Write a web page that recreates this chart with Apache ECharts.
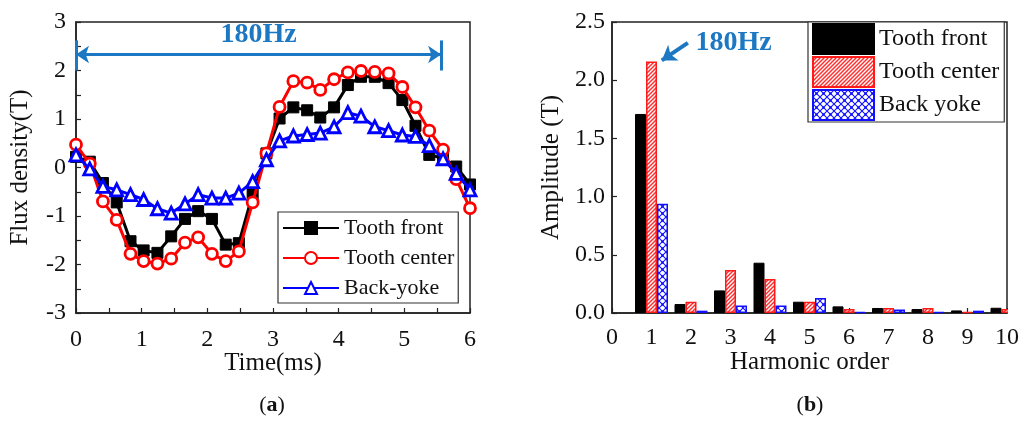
<!DOCTYPE html>
<html>
<head>
<meta charset="utf-8">
<script src="https://cdn.jsdelivr.net/npm/echarts@6/dist/echarts.min.js"></script>
<style>
  html, body { margin: 0; padding: 0; background: #fff; }
  #wrap { position: relative; width: 1026px; height: 423px; }
  #fluxChart { position: absolute; left: 0; top: 0; width: 540px; height: 423px; }
  #harmonicChart { position: absolute; left: 540px; top: 0; width: 486px; height: 423px; }
</style>
</head>
<body>
<div id="wrap">
  <div id="fluxChart"></div>
  <div id="harmonicChart"></div>
</div>
<script>
// ---- (a) flux density waveforms ----
const timeMs = [0, 0.21, 0.41, 0.62, 0.83, 1.03, 1.24, 1.45, 1.66, 1.86,
  2.07, 2.28, 2.48, 2.69, 2.90, 3.10, 3.31, 3.52, 3.72, 3.93,
  4.14, 4.34, 4.55, 4.76, 4.97, 5.17, 5.38, 5.59, 5.79, 6.00];
const toothFront = [0.22, 0.12, -0.32, -0.72, -1.52, -1.71, -1.76, -1.42, -1.06, -0.90,
  -1.06, -1.59, -1.56, -0.55, 0.29, 1.01, 1.24, 1.18, 1.03, 1.24,
  1.70, 1.87, 1.87, 1.74, 1.39, 0.86, 0.26, 0.19, 0.02, -0.35];
const toothCenter = [0.47, 0.08, -0.70, -1.08, -1.78, -1.93, -1.98, -1.88, -1.55, -1.44,
  -1.78, -1.93, -1.73, -0.72, 0.29, 1.25, 1.78, 1.75, 1.60, 1.82,
  1.96, 1.99, 1.97, 1.94, 1.66, 1.24, 0.76, 0.37, -0.24, -0.84];
const backYoke = [0.26, -0.03, -0.39, -0.46, -0.56, -0.66, -0.85, -0.94, -0.75, -0.56,
  -0.63, -0.63, -0.53, -0.29, 0.16, 0.55, 0.65, 0.68, 0.71, 0.84,
  1.13, 1.06, 0.84, 0.76, 0.67, 0.64, 0.45, 0.18, -0.12, -0.46];
const fluxLegend = ['Tooth front', 'Tooth center', 'Back-yoke'];

// one electrical period at 180 Hz, in ms
const periodEndMs = 5.56;

// ---- (b) harmonic amplitudes ----
const harmonicOrder = [1, 2, 3, 4, 5, 6, 7, 8, 9, 10];
const ampToothFront = [1.71, 0.077, 0.194, 0.432, 0.097, 0.057, 0.043, 0.034, 0.022, 0.045];
const ampToothCenter = [2.16, 0.097, 0.369, 0.292, 0.097, 0.034, 0.043, 0.043, 0.010, 0.034];
const ampBackYoke = [0.938, 0.020, 0.065, 0.065, 0.129, 0.009, 0.031, 0.010, 0.020, 0.010];
const harmonicLegend = ['Tooth front', 'Tooth center', 'Back yoke'];

const FONT = '"Liberation Serif", "DejaVu Serif", serif';
const AXIS_COLOR = '#222';
const NOTE_BLUE = '#1c78c2';

// hatch fills for the bars
function stripePattern(color) {
  const s = 4;
  const c = document.createElement('canvas');
  c.width = s; c.height = s;
  const g = c.getContext('2d');
  g.fillStyle = '#fff'; g.fillRect(0, 0, s, s);
  g.strokeStyle = color; g.lineWidth = 1.5;
  g.beginPath();
  g.moveTo(-1, s + 1); g.lineTo(s + 1, -1);
  g.moveTo(-1, 1); g.lineTo(1, -1);
  g.moveTo(s - 1, s + 1); g.lineTo(s + 1, s - 1);
  g.stroke();
  return c;
}
function crossPattern(color) {
  const s = 7;
  const c = document.createElement('canvas');
  c.width = s; c.height = s;
  const g = c.getContext('2d');
  g.fillStyle = '#fff'; g.fillRect(0, 0, s, s);
  g.strokeStyle = color; g.lineWidth = 1.1;
  g.beginPath();
  g.moveTo(0, 0); g.lineTo(s, s);
  g.moveTo(0, s); g.lineTo(s, 0);
  g.stroke();
  g.fillStyle = color;
  g.fillRect(s / 2 - 1.2, s / 2 - 1.2, 2.4, 2.4);
  return c;
}

function axisCommon() {
  return {
    axisLine: { show: true, onZero: false, lineStyle: { color: AXIS_COLOR, width: 1.5 } },
    axisTick: { show: true, inside: true, length: 5, lineStyle: { color: AXIS_COLOR, width: 1.2 } },
    splitLine: { show: false },
    nameMoveOverlap: false,
    axisLabel: { fontFamily: FONT, fontSize: 24, color: '#111' },
    nameTextStyle: { fontFamily: FONT, fontSize: 25, color: '#111' }
  };
}

// ---------------- chart (a) ----------------
const fluxChart = echarts.init(document.getElementById('fluxChart'), null, { renderer: 'canvas' });
const xa = axisCommon();
const ya = axisCommon();
fluxChart.setOption({
  animation: false,
  backgroundColor: '#fff',
  grid: { left: 76, right: 70, top: 22, bottom: 110, containLabel: false, outerBoundsMode: 'none',
          show: true, borderColor: AXIS_COLOR, borderWidth: 1.5 },
  xAxis: Object.assign(xa, {
    type: 'value', min: 0, max: 6, interval: 1,
    minorTick: { show: true, splitNumber: 2, length: 5, lineStyle: { color: AXIS_COLOR, width: 1.2 } },
    name: 'Time(ms)', nameLocation: 'middle', nameGap: 38,
    axisLabel: Object.assign(xa.axisLabel, { margin: 15 })
  }),
  yAxis: Object.assign(ya, {
    type: 'value', min: -3, max: 3, interval: 1,
    minorTick: { show: true, splitNumber: 2, length: 5, lineStyle: { color: AXIS_COLOR, width: 1.2 } },
    name: 'Flux density(T)', nameLocation: 'middle', nameGap: 43,
    axisLabel: Object.assign(ya.axisLabel, { margin: 10 })
  }),
  legend: {
    data: fluxLegend,
    orient: 'vertical',
    left: 278, top: 212,
    itemWidth: 56, itemHeight: 15, itemGap: 4,
    padding: [3, 4, 2, 4],
    borderColor: '#333', borderWidth: 1.2,
    backgroundColor: '#fff',
    textStyle: { fontFamily: FONT, fontSize: 22, color: '#111', lineHeight: 26 }
  },
  series: [
    {
      name: 'Tooth front', type: 'line',
      data: timeMs.map((t, i) => [t, toothFront[i]]),
      symbol: 'rect', symbolSize: 11,
      lineStyle: { color: '#000', width: 3 },
      itemStyle: { color: '#000', borderColor: '#000', borderWidth: 1 },
      z: 2
    },
    {
      name: 'Tooth center', type: 'line',
      data: timeMs.map((t, i) => [t, toothCenter[i]]),
      symbol: 'circle', symbolSize: 11,
      lineStyle: { color: '#ff0000', width: 3 },
      itemStyle: { color: '#fff', borderColor: '#ff0000', borderWidth: 2.8 },
      z: 3
    },
    {
      name: 'Back-yoke', type: 'line',
      data: timeMs.map((t, i) => [t, backYoke[i]]),
      symbol: 'triangle', symbolSize: 12,
      lineStyle: { color: '#0000ff', width: 3 },
      itemStyle: { color: '#fff', borderColor: '#0000ff', borderWidth: 2.8 },
      z: 4,
      markLine: {
        silent: true, animation: false,
        symbolSize: [13, 13],
        lineStyle: { color: NOTE_BLUE, width: 3, type: 'solid' },
        label: { show: false },
        emphasis: { disabled: true },
        data: [
          [
            { coord: [0, 2.33], symbol: 'arrow' },
            { coord: [periodEndMs, 2.33], symbol: 'arrow',
              label: { show: true, position: 'middle', formatter: '180Hz', distance: 6,
                       fontFamily: FONT, fontSize: 28, fontWeight: 'bold', color: NOTE_BLUE } }
          ],
          [{ coord: [0, 2.0], symbol: 'none' }, { coord: [0, 2.62], symbol: 'none' }],
          [{ coord: [periodEndMs, 2.0], symbol: 'none' }, { coord: [periodEndMs, 2.62], symbol: 'none' }]
        ]
      }
    }
  ],
  graphic: [{
    type: 'text', x: 272, y: 405,
    style: {
      text: '{p|(}{b|a}{p|)}', align: 'center', verticalAlign: 'middle',
      rich: {
        p: { fontFamily: FONT, fontSize: 22, fill: '#111' },
        b: { fontFamily: FONT, fontSize: 22, fontWeight: 'bold', fill: '#111' }
      }
    }
  }]
});

// ---------------- chart (b) ----------------
const harmonicChart = echarts.init(document.getElementById('harmonicChart'), null, { renderer: 'canvas' });
const redFill = { image: stripePattern('#ff3030'), repeat: 'repeat' };
const blueFill = { image: crossPattern('#1010ff'), repeat: 'repeat' };
const xb = axisCommon();
const yb = axisCommon();
const gridB = { left: 72, right: 19, top: 22, bottom: 110 };
harmonicChart.setOption({
  animation: false,
  backgroundColor: '#fff',
  grid: Object.assign({ containLabel: false, outerBoundsMode: 'none', show: true,
                        borderColor: AXIS_COLOR, borderWidth: 1.5 }, gridB),
  xAxis: Object.assign(xb, {
    type: 'value', min: 0, max: 10, interval: 1,
    name: 'Harmonic order', nameLocation: 'middle', nameGap: 37,
    axisLabel: Object.assign(xb.axisLabel, { margin: 13 })
  }),
  yAxis: Object.assign(yb, {
    type: 'value', min: 0, max: 2.5, interval: 0.5,
    name: 'Amplitude (T)', nameLocation: 'middle', nameGap: 48,
    axisLabel: Object.assign(yb.axisLabel, { margin: 7, formatter: v => v.toFixed(1) })
  }),
  legend: {
    data: harmonicLegend,
    orient: 'vertical',
    left: 268, top: 22,
    icon: 'rect',
    itemWidth: 61, itemHeight: 30, itemGap: 1,
    padding: [1, 5, 1, 4],
    borderColor: '#333', borderWidth: 1.2,
    backgroundColor: '#fff',
    textStyle: { fontFamily: FONT, fontSize: 24, color: '#111', lineHeight: 28 }
  },
  series: [
    {
      name: 'Tooth front', type: 'bar', clip: true,
      data: harmonicOrder.map((h, i) => [h, ampToothFront[i]]),
      barWidth: 11, barGap: '0%',
      itemStyle: { color: '#000', borderColor: '#000', borderWidth: 1 }
    },
    {
      name: 'Tooth center', type: 'bar', clip: true,
      data: harmonicOrder.map((h, i) => [h, ampToothCenter[i]]),
      barWidth: 11, barGap: '0%',
      itemStyle: { color: redFill, borderColor: '#ff1a1a', borderWidth: 1.5 },
      markLine: {
        silent: true, animation: false,
        symbol: ['none', 'arrow'], symbolSize: [14, 14],
        lineStyle: { color: NOTE_BLUE, width: 4, type: 'solid' },
        label: { show: false },
        emphasis: { disabled: true },
        data: [[{ coord: [1.92, 2.32] }, { coord: [1.26, 2.17] }]]
      },
      markPoint: {
        silent: true, animation: false,
        symbol: 'rect', symbolSize: 1,
        itemStyle: { color: 'rgba(0,0,0,0)' },
        label: { show: true, position: 'inside', formatter: '180Hz',
                 fontFamily: FONT, fontSize: 28, fontWeight: 'bold', color: NOTE_BLUE },
        data: [{ coord: [3.08, 2.32] }]
      }
    },
    {
      name: 'Back yoke', type: 'bar', clip: true,
      data: harmonicOrder.map((h, i) => [h, ampBackYoke[i]]),
      barWidth: 11, barGap: '0%',
      itemStyle: { color: blueFill, borderColor: '#1010ff', borderWidth: 1.5 }
    }
  ],
  graphic: [
    // bars on a value axis are not cut at the frame; mask the strip right of the plot
    {
      type: 'rect', z: 50, silent: true,
      shape: { x: 486 - gridB.right + 1, y: 0, width: gridB.right, height: 423 - gridB.bottom + 4 },
      style: { fill: '#fff' }
    },
    {
      type: 'text', x: 270, y: 405,
      style: {
        text: '{p|(}{b|b}{p|)}', align: 'center', verticalAlign: 'middle',
        rich: {
          p: { fontFamily: FONT, fontSize: 22, fill: '#111' },
          b: { fontFamily: FONT, fontSize: 22, fontWeight: 'bold', fill: '#111' }
        }
      }
    }
  ]
});
</script>
</body>
</html>
